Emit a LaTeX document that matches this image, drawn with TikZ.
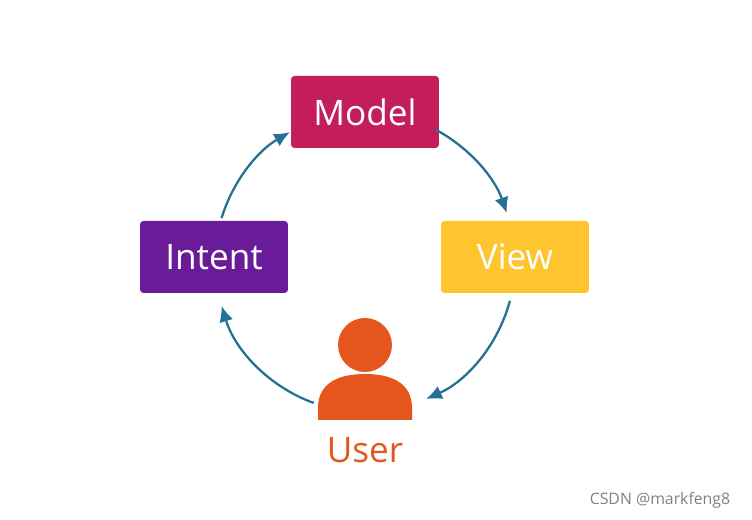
\documentclass[tikz,border=0pt]{standalone}
\usepackage{fontspec}
\setmainfont{Open Sans}
\usetikzlibrary{arrows.meta}
\definecolor{modelc}{RGB}{196,30,90}
\definecolor{viewc}{RGB}{255,197,47}
\definecolor{intentc}{RGB}{106,27,154}
\definecolor{userc}{RGB}{229,86,30}
\definecolor{flowc}{RGB}{36,112,150}

\begin{document}
\begin{tikzpicture}[x=0.02cm, y=0.02cm]
    % Setup the styles
    \tikzset{box/.style={rectangle, rounded corners=2pt, minimum width=2.96cm,
                         minimum height=1.44cm, text=white, font=\fontsize{20}{24}\selectfont},
             flow/.style={flowc, line width=1.3pt, -{Latex[length=9pt, width=8pt]}}}
    \useasboundingbox (0,0) rectangle (752,520);

    % Draw the boxes
    \node[box, fill=modelc]  at (365,408) (model)  {Model};
    \node[box, fill=viewc]   at (515,263) (view)   {View};
    \node[box, fill=intentc] at (214,263) (intent) {Intent};

    % Draw the user
    \coordinate (C) at (365,258);
    \fill[userc] (365,175) circle (27);
    \fill[userc] (318,100) -- (318,112) .. controls (318,138) and (340,146) .. (365,146)
        .. controls (390,146) and (412,138) .. (412,112) -- (412,100) -- cycle;
    \node[text=userc, font=\fontsize{20}{24}\selectfont] at (365,70) (user) {User};

    % Connect the boxes with arcs
    \draw[flow] (C) ++(62:150)   arc (62:19:150);
    \draw[flow] (C) ++(-15:150)  arc (-15:-66:150);
    \draw[flow] (C) ++(-110:150) arc (-110:-163:150);
    \draw[flow] (C) ++(163:150)  arc (163:120:150);

    \node[text=gray, font=\small] at (660,20) (mark) {CSDN @markfeng8};
\end{tikzpicture}
\end{document}
